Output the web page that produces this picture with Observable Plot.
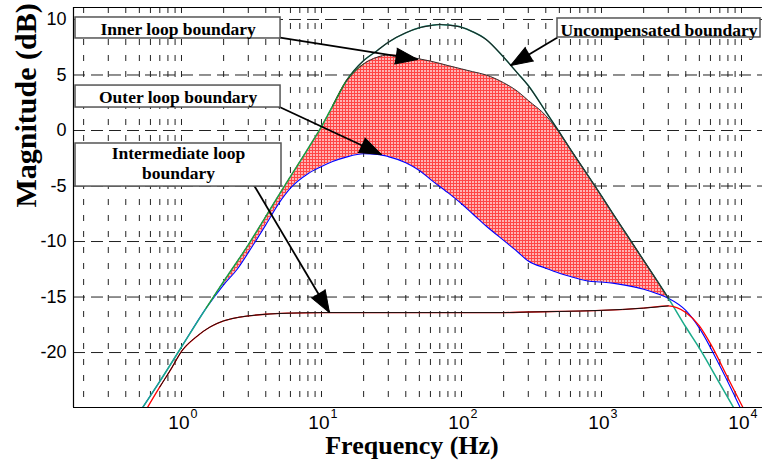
<!DOCTYPE html>
<html>
<head>
<meta charset="utf-8">
<script src="https://cdn.jsdelivr.net/npm/d3@7"></script>
<script src="https://cdn.jsdelivr.net/npm/@observablehq/plot@0.6"></script>
<style>
  html, body { margin: 0; padding: 0; background: #fff; }
  #chart { width: 762px; height: 467px; overflow: hidden; }
</style>
</head>
<body>
<div id="chart"></div>
<script>
// ---------------- data (frequency in Hz, magnitude in dB) ----------------
const uncFreq = [0.5,0.7,1,1.5,2,3,4,5,6,8,10,12,15,20,25,30,40,50,60,70,80,100,120,150,200,250,300,400,500,600,800,1000,1200,1500,2000,2500,3000,4000,5000,7000,9000];
const uncDb   = [-25.4,-22.6,-19.5,-16.0,-13.6,-10.3,-7.75,-5.75,-4.15,-1.65,0.35,2.2,4.45,6.3,7.2,7.95,8.8,9.25,9.45,9.55,9.5,9.3,8.9,8.2,6.6,5.2,4.05,1.7,-0.15,-1.7,-4.05,-5.9,-7.45,-9.3,-11.7,-13.55,-15.1,-17.7,-19.6,-22.8,-25.2];

const bandFreq = [1.5,2,2.5,3,4,5,6,8,10,12,15,20,25,30,40,50,60,80,100,120,150,200,250,300,400,500,600,800,1000,1200,1500,2000,2500,3000];
const innerDb  = [-16.0,-13.6,-11.8,-10.3,-7.75,-5.75,-4.15,-1.65,0.35,2.2,4.45,6.0,6.6,6.8,6.7,6.45,6.25,5.85,5.55,5.3,5.0,4.3,3.55,2.7,1.35,-0.2,-1.7,-4.05,-5.9,-7.45,-9.3,-11.7,-13.55,-15.1];
const outerDb  = [-16.0,-13.9,-12.5,-11.0,-8.5,-6.5,-5.2,-3.9,-3.25,-2.8,-2.4,-2.1,-2.15,-2.35,-2.9,-3.6,-4.4,-5.6,-6.6,-7.5,-8.6,-9.9,-10.9,-11.75,-12.4,-12.85,-13.15,-13.55,-13.65,-13.75,-13.95,-14.3,-14.7,-15.1];

const outerLowFreq  = [0.5,0.7,1];
const outerLowDb    = [-25.4,-22.6,-19.5];
const outerHighFreq = [4000,5000,7000,9000,10000];
const outerHighDb   = [-16.2,-17.8,-21.2,-24.0,-25.2];

const interFreq = [0.55,0.7,0.85,1,1.3,1.6,2,2.5,3,4,6,10,20,50,100,200,300,500,1000,2000,3000,4000,5000,6000,8000,10000,11000];
const interDb   = [-25.3,-23.1,-21.4,-19.9,-18.5,-17.7,-17.15,-16.85,-16.7,-16.55,-16.45,-16.4,-16.4,-16.4,-16.4,-16.4,-16.35,-16.3,-16.2,-16.0,-15.8,-16.4,-17.6,-19.2,-22.3,-24.7,-25.7];

// ticks / grid
const xTickFreq = [1,10,100,1000,10000];
const xTickBase = "10";
const xTickExp  = ["0","1","2","3","4"];
const yTicks    = [-20,-15,-10,-5,0,5,10];
const gridFreq  = [0.2,0.3,0.4,0.5,0.6,0.7,0.8,0.9,1,2,3,4,5,6,7,8,9,10,20,30,40,50,60,70,80,90,100,200,300,400,500,600,700,800,900,1000,2000,3000,4000,5000,6000,7000,8000,9000,10000];
const xDomain = [0.1693, 14125];
const yDomain = [-24.95, 11.08];

// annotations (boxes in data coordinates)
const boxF1   = [0.175, 0.175, 0.175, 485];
const boxF2   = [5.10, 5.10, 5.18, 13670];
const boxTop  = [10.18, 4.05, -1.17, 10.09];
const boxBot  = [8.29, 2.07, -5.05, 8.38];
const noteText = ["Inner loop boundary","Outer loop boundary","Intermediate loop","boundary","Uncompensated boundary"];
const noteFreq = [0.945, 0.945, 0.952, 0.952, 2576];
const noteDb   = [9.15, 2.94, -2.05, -3.82, 9.06];
const arrowFromFreq = [4.93, 4.93, 3.27, 485];
const arrowFromDb   = [8.38, 2.16, -4.86, 8.38];
const arrowToFreq   = [48.5, 26.8, 11.4, 224];
const arrowToDb     = [6.4, -2.16, -16.4, 5.86];

// ---------------- layout ----------------
const W = 762, H = 467, ML = 73, MR = 0, MT = 7, MB = 60;
const serif = "'Liberation Serif','Times New Roman',Times,serif";
const sans = "'Liberation Sans',Arial,Helvetica,sans-serif";

const uncData = uncFreq.map((f, i) => ({f, db: uncDb[i]}));
const bandData = bandFreq.map((f, i) => ({f, inner: innerDb[i], outer: outerDb[i]}));
const outerData = [
  ...outerLowFreq.map((f, i) => ({f, db: outerLowDb[i]})),
  ...bandData.map(d => ({f: d.f, db: d.outer})),
  ...outerHighFreq.map((f, i) => ({f, db: outerHighDb[i]}))
];
const interData = interFreq.map((f, i) => ({f, db: interDb[i]}));
const boxes = boxF1.map((f, i) => ({x1: f, x2: boxF2[i], y1: boxBot[i], y2: boxTop[i]}));

const sx = Plot.scale({x: {type: "log", domain: xDomain, range: [ML, W - MR]}});
const sy = Plot.scale({y: {type: "linear", domain: yDomain, range: [H - MB, MT]}});
const arrows = arrowFromFreq.map((f, i) => {
  const dx = sx.apply(arrowToFreq[i]) - sx.apply(f);
  const dy = sy.apply(arrowToDb[i]) - sy.apply(arrowFromDb[i]);
  return {x1: f, y1: arrowFromDb[i], x2: arrowToFreq[i], y2: arrowToDb[i], angle: Math.atan2(dx, -dy) * 180 / Math.PI};
});

const plot = Plot.plot({
  width: W, height: H,
  marginLeft: ML, marginRight: MR, marginTop: MT, marginBottom: MB,
  x: {type: "log", domain: xDomain, axis: null},
  y: {domain: yDomain, ticks: yTicks, tickSize: 0, tickPadding: 7, tickFormat: d => String(d), label: null},
  style: {fontFamily: sans, fontSize: "18px", color: "#000", background: "#fff"},
  marks: [
    Plot.ruleX(gridFreq, {x: d => d, stroke: "#222", strokeWidth: 1, strokeDasharray: "6,10"}),
    Plot.ruleY(yTicks, {y: d => d, stroke: "#222", strokeWidth: 1, strokeDasharray: "12,6"}),
    Plot.areaY(bandData, {x: "f", y1: "outer", y2: "inner", fill: "url(#hatch)", curve: "monotone-x", clip: true}),
    Plot.line(outerData, {x: "f", y: "db", stroke: "#0000ff", strokeWidth: 1.1, curve: "monotone-x", clip: true}),
    Plot.line(uncData, {x: "f", y: "db", stroke: "#1aab8a", strokeWidth: 1.5, curve: "monotone-x", clip: true}),
    Plot.line(uncData.filter(d => d.f >= 12 && d.f <= 3000), {x: "f", y: "db", stroke: "#222", strokeWidth: 1.1, curve: "monotone-x", clip: true}),
    Plot.line(bandData.filter(d => d.f <= 20), {x: "f", y: "inner", stroke: "#22a022", strokeWidth: 1, curve: "monotone-x", clip: true}),
    Plot.line(bandData.filter(d => d.f >= 15), {x: "f", y: "inner", stroke: "#333", strokeWidth: 1, curve: "monotone-x", clip: true}),
    Plot.line(interData, {x: "f", y: "db", stroke: "#ff0000", strokeWidth: 1.3, curve: "monotone-x", clip: true}),
    Plot.line(interData.filter(d => d.f >= 0.7 && d.f <= 3000), {x: "f", y: "db", stroke: "#111", strokeWidth: 1, curve: "monotone-x", clip: true}),
    Plot.ruleX([xDomain[0]], {stroke: "#000", strokeWidth: 1.2}),
    Plot.ruleY([yDomain[0]], {stroke: "#000", strokeWidth: 1.2}),
    Plot.ruleY([yDomain[1]], {stroke: "#000", strokeWidth: 1.2}),
    Plot.link(arrows, {x1: "x1", y1: "y1", x2: "x2", y2: "y2", stroke: "#000", strokeWidth: 1.8}),
    Plot.vector(arrows, {x: "x2", y: "y2", rotate: "angle", length: 22, r: 8, shape: "spike", anchor: "end", fill: "#000", stroke: "#000", strokeWidth: 1}),
    Plot.rect(boxes, {x1: "x1", x2: "x2", y1: "y1", y2: "y2", fill: "#fff", stroke: "#555", strokeWidth: 1.5}),
    Plot.text(noteText, {x: noteFreq, y: noteDb, text: d => d, fontFamily: serif, fontWeight: "bold", fontSize: 17.5, fill: "#000"}),
    Plot.text(xTickFreq, {x: d => d, text: () => xTickBase, frameAnchor: "bottom", textAnchor: "end", dx: 8, dy: 21, fontSize: 19, fontFamily: sans, fill: "#000"}),
    Plot.text(xTickFreq, {x: d => d, text: (d, i) => xTickExp[i], frameAnchor: "bottom", textAnchor: "start", dx: 9, dy: 10, fontSize: 12.5, fontFamily: sans, fill: "#000"}),
    Plot.text(["Frequency (Hz)"], {frameAnchor: "bottom", text: d => d, dx: -6, dy: 46, fontFamily: serif, fontWeight: "bold", fontSize: 26, fill: "#000"}),
    Plot.text(["Magnitude (dB)"], {frameAnchor: "left", text: d => d, rotate: -90, dx: -47, dy: 0, fontFamily: serif, fontWeight: "bold", fontSize: 30, fill: "#000"})
  ]
});

// hatch pattern for the shaded region between the loop boundaries
const svg = d3.select(plot);
const defs = svg.insert("defs", ":first-child");
const pat = defs.append("pattern").attr("id", "hatch").attr("patternUnits", "userSpaceOnUse").attr("width", 3).attr("height", 3);
pat.append("rect").attr("width", 3).attr("height", 3).attr("fill", "#ffb3b3");
pat.append("path").attr("d", "M0,0.5H3M0.5,0V3").attr("stroke", "#ff4545").attr("stroke-width", 1);

document.getElementById("chart").appendChild(plot);
</script>
</body>
</html>
